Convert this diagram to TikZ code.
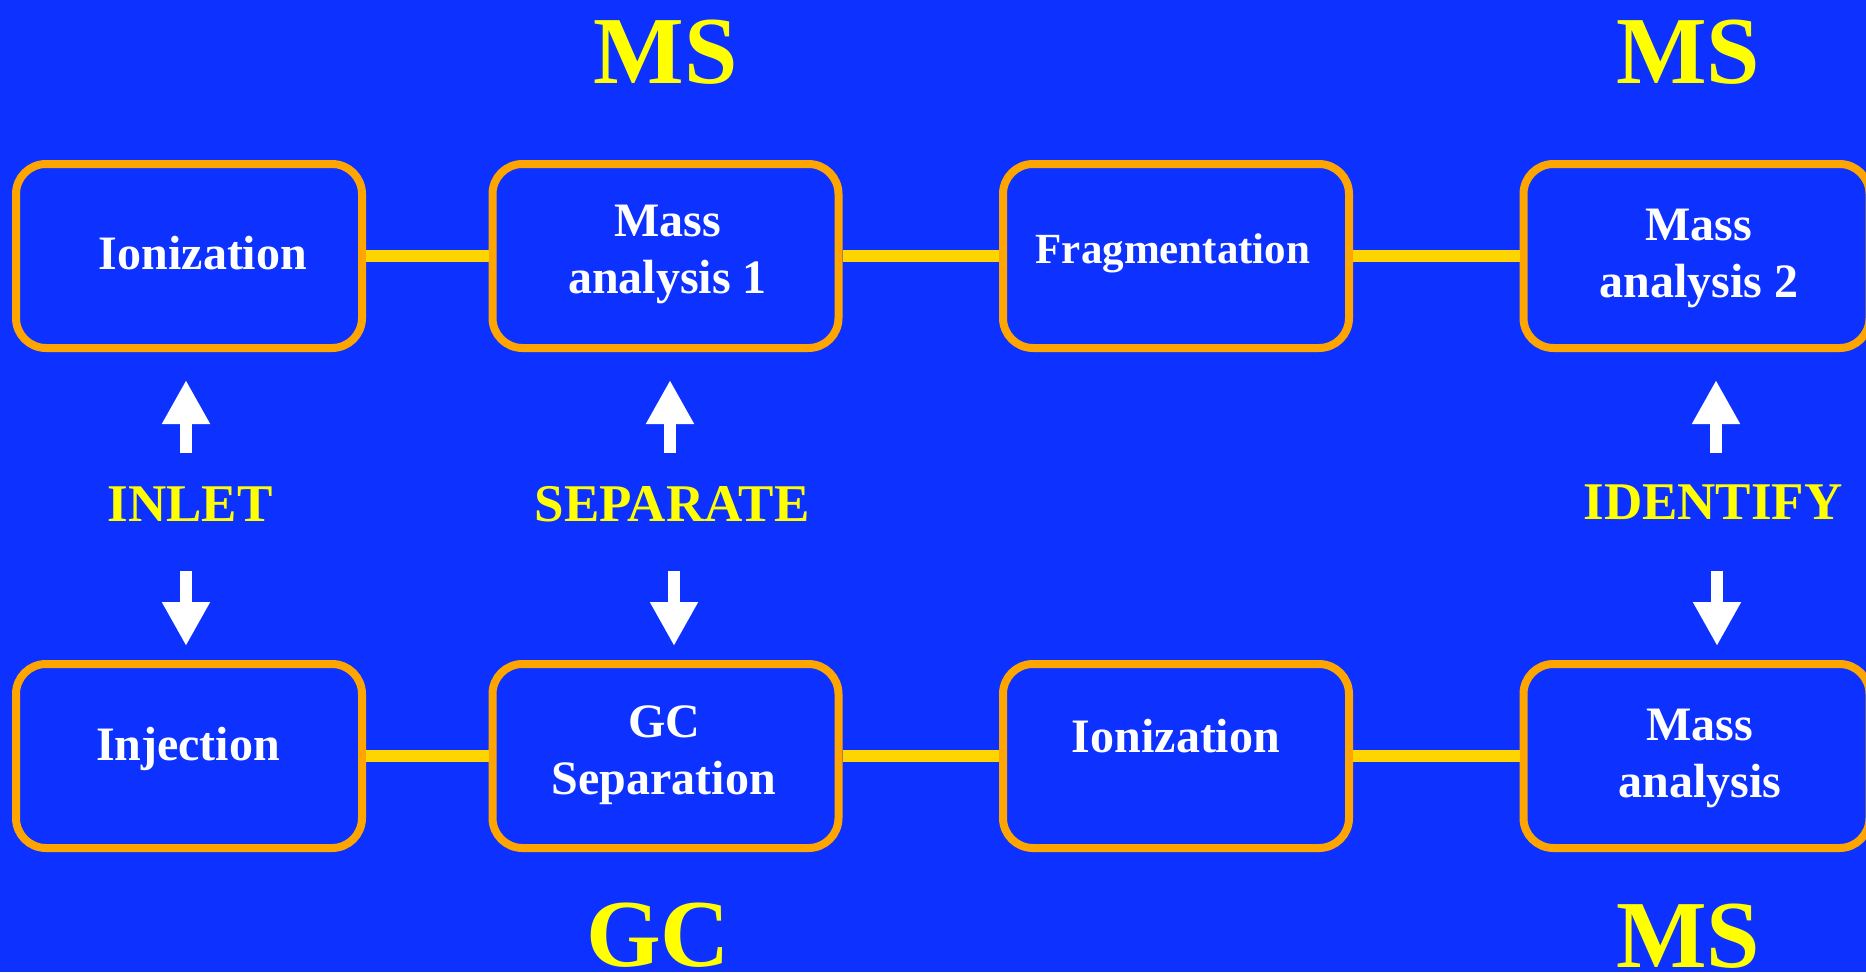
\documentclass[tikz,border=0pt]{standalone}
\usepackage{fontspec}
\setmainfont{Liberation Serif}
\usetikzlibrary{arrows.meta}
\definecolor{bg}{RGB}{13,50,255}
\definecolor{boxline}{RGB}{255,165,0}
\definecolor{link}{RGB}{255,213,0}
\definecolor{ylw}{RGB}{255,255,0}
\tikzset{
  stage/.style={draw=boxline, fill=bg, line width=8pt, rounded corners=30pt,
    minimum width=346pt, minimum height=184pt, inner sep=0pt},
  boxtext/.style={text=white, font=\fontsize{48pt}{57pt}\selectfont\bfseries,
    align=center, anchor=base, inner sep=0pt},
  title/.style={text=ylw, font=\fontsize{96pt}{110pt}\selectfont\bfseries,
    anchor=base, inner sep=0pt},
  steplabel/.style={text=ylw, font=\fontsize{53pt}{60pt}\selectfont\bfseries,
    anchor=base, inner sep=0pt},
  linkline/.style={draw=link, line width=12pt},
  bigarrow/.style={draw=white, line width=12pt, -{Triangle[width=45pt,length=44pt]}}
}
\begin{document}
\begin{tikzpicture}[x=1pt,y=-1pt]
\fill[bg] (0,0) rectangle (1866,972);
\useasboundingbox (0,0) rectangle (1866,972);

% boxes
\node[stage] (b1) at (189,256) {};
\node[stage] (b2) at (665.5,256) {};
\node[stage] (b3) at (1176,256) {};
\node[stage] (b4) at (1696.5,256) {};
\node[stage] (c1) at (189,756) {};
\node[stage] (c2) at (665.5,756) {};
\node[stage] (c3) at (1176,756) {};
\node[stage] (c4) at (1696.5,756) {};

% connectors
\draw[linkline] (b1.east) -- (b2.west);
\draw[linkline] (b2.east) -- (b3.west);
\draw[linkline] (b3.east) -- (b4.west);
\draw[linkline] (c1.east) -- (c2.west);
\draw[linkline] (c2.east) -- (c3.west);
\draw[linkline] (c3.east) -- (c4.west);

% box texts (two-line nodes are placed by the baseline of their last line)
\node[boxtext] (tb1) at (203,269) {Ionization};
\node[boxtext] (tb2) at (667.5,293) {Mass\\analysis 1};
\node[boxtext, font=\fontsize{43pt}{52pt}\selectfont\bfseries] (tb3) at (1173,263) {Fragmentation};
\node[boxtext] (tb4) at (1699,297) {Mass\\analysis 2};
\node[boxtext] (tc1) at (188,760) {Injection};
\node[boxtext] (tc2) at (664,794) {GC\\Separation};
\node[boxtext] (tc3) at (1176,752) {Ionization};
\node[boxtext] (tc4) at (1700,797) {Mass\\analysis};

% titles
\node[title] (ms1) at (665.5,83) {MS};
\node[title] (ms2) at (1688,83) {MS};
\node[title] (gc) at (658,966) {GC};
\node[title] (ms3) at (1688,967) {MS};

% step labels
\node[steplabel] (inlet) at (190,521) {INLET};
\node[steplabel] (sep) at (672,521) {SEPARATE};
\node[steplabel] (ident) at (1713,519) {IDENTIFY};

% arrow end points
\coordinate (iu0) at (186,453); \coordinate (iu1) at (186,380);
\coordinate (id0) at (186,571); \coordinate (id1) at (186,646);
\coordinate (su0) at (670,453); \coordinate (su1) at (670,380);
\coordinate (sd0) at (674,571); \coordinate (sd1) at (674,646);
\coordinate (du0) at (1716,453); \coordinate (du1) at (1716,380);
\coordinate (dd0) at (1717,571); \coordinate (dd1) at (1717,646);

\draw[bigarrow] (iu0) -- (iu1);
\draw[bigarrow] (id0) -- (id1);
\draw[bigarrow] (su0) -- (su1);
\draw[bigarrow] (sd0) -- (sd1);
\draw[bigarrow] (du0) -- (du1);
\draw[bigarrow] (dd0) -- (dd1);
\end{tikzpicture}
\end{document}
